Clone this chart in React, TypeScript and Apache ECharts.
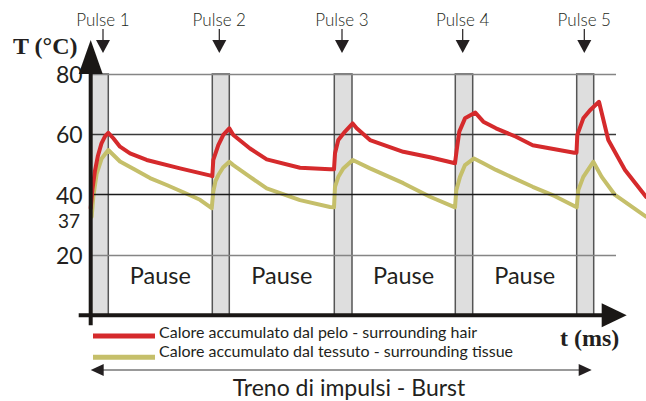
import React, { useEffect, useRef } from "react";
import * as echarts from "echarts";

// ---- data ----
const pulseLabels = ["Pulse 1", "Pulse 2", "Pulse 3", "Pulse 4", "Pulse 5"];
const pulseStart = [0, 12.16, 24.36, 36.46, 48.6];
const pulseEnd = [1.76, 13.86, 26.13, 38.2, 50.3];
const pulseMark = [1.23, 12.86, 25.13, 37.2, 49.36];
const pauseLabel = "Pause";
const pauseLevel = 13.4;
const yTicks = [20, 40, 60, 80];
const gridEnd = 52.53;
const xMax = 55.53;

const hairName = "Calore accumulato dal pelo - surrounding hair";
const tissueName = "Calore accumulato dal tessuto - surrounding tissue";

const timeHair = [0, 0.18, 0.43, 0.73, 1.08, 1.43, 1.76, 2.26, 2.93, 3.93, 5.6, 8.93, 12.0, 12.16, 12.26, 12.76, 13.26, 13.86, 14.26, 15.93, 17.6, 20.93, 23.93, 24.33, 24.43, 24.76, 25.43, 26.2, 26.6, 27.93, 31.26, 33.93, 36.43, 36.6, 36.86, 37.43, 38.46, 39.26, 40.53, 42.53, 44.2, 48.36, 48.58, 48.66, 49.26, 49.93, 50.83, 51.76, 53.43, 55.53];
const tempHair = [35.5, 42, 48, 53, 57, 59.3, 60.5, 58.7, 55.9, 53.7, 51.5, 48.7, 46.3, 46.1, 51.5, 56.4, 59.8, 62, 59.8, 55.3, 51.7, 48.9, 48.4, 48.4, 53.7, 58.1, 60.9, 63.6, 62, 58.1, 54.2, 52.4, 50.4, 54.8, 60.9, 65.3, 67.2, 64.2, 62, 59.2, 56.4, 53.9, 53.9, 59.8, 65.3, 68, 70.8, 58.1, 48.2, 39.3];

const timeTissue = [0.1, 0.26, 0.6, 1.1, 1.76, 2.93, 4.26, 5.93, 7.6, 9.26, 10.93, 12.1, 12.26, 12.48, 12.76, 13.23, 13.86, 14.26, 15.93, 17.6, 20.93, 23.93, 24.33, 24.43, 24.76, 25.26, 26.2, 27.93, 31.26, 33.93, 36.43, 36.56, 36.93, 37.43, 38.33, 39.26, 40.53, 44.2, 46.43, 48.6, 48.76, 49.26, 50.26, 51.1, 52.43, 55.53];
const tempTissue = [32.7, 39.3, 47, 52, 54.8, 51, 48.6, 45.5, 43.2, 40.8, 38.3, 35.5, 41, 44.5, 46.5, 49, 50.9, 49.8, 45.9, 42.1, 38.2, 35.9, 35.8, 42.6, 45.9, 48.7, 51.5, 48.7, 43.8, 39.3, 35.8, 41.5, 45.9, 49.8, 52, 50.4, 48.2, 42.6, 39.5, 35.8, 41.5, 45.9, 50.9, 45.9, 39.9, 32.7];

const RED = "#d52a2c";
const YEL = "#c5bf6a";
const INK = "#231f20";
const SANS = "Lato";
const SERIF = "Liberation Serif";
const gridColors: Record<number, string> = { 20: "#858585", 40: "#1a1a1a", 60: "#3a3a3a", 80: "#858585" };

export default function App() {
  const ref = useRef<HTMLDivElement>(null);
  useEffect(() => {
    if (!ref.current) return;
    const chart = echarts.init(ref.current, undefined, { renderer: "svg" });
    const option: any = {
      animation: false,
      grid: { left: 90.7, right: 0, top: 74, height: 241.3, containLabel: false },
      xAxis: {
        type: "value", min: 0, max: xMax,
        axisLine: { show: false }, axisTick: { show: false }, axisLabel: { show: false }, splitLine: { show: false },
      },
      yAxis: {
        type: "value", min: 0, max: 80, interval: 20,
        axisLine: { show: false }, axisTick: { show: false }, splitLine: { show: false },
        axisLabel: {
          formatter: (v: number) => (v === 0 ? "" : String(v)),
          fontFamily: SANS, fontWeight: 400, fontSize: 23, color: INK, margin: 8,
        },
      },
      series: [
        {
          name: "bands", type: "line", data: [], z: 1, silent: true,
          markArea: {
            silent: true,
            itemStyle: { color: "#dedede", borderColor: "#555", borderWidth: 1.5 },
            data: pulseStart.map((s, i) => [{ coord: [s, 0] }, { coord: [pulseEnd[i], 80] }]),
          },
        },
        {
          name: "grid", type: "line", data: [], z: 2, silent: true,
          markLine: {
            silent: true, symbol: ["none", "none"], label: { show: false },
            data: yTicks.map((v) => [
              { coord: [0, v], lineStyle: { color: gridColors[v], width: 1.3, type: "solid" } },
              { coord: [gridEnd, v] },
            ]),
          },
        },
        {
          name: tissueName, type: "line", z: 4, showSymbol: false, symbol: "none",
          lineStyle: { color: YEL, width: 4, join: "round", cap: "round" },
          data: timeTissue.map((t, i) => [t, tempTissue[i]]),
        },
        {
          name: hairName, type: "line", z: 5, showSymbol: false, symbol: "none",
          lineStyle: { color: RED, width: 4, join: "round", cap: "round" },
          data: timeHair.map((t, i) => [t, tempHair[i]]),
        },
      ],
    };
    chart.setOption(option);

    const px = (x: number, y: number) => chart.convertToPixel({ gridIndex: 0 }, [x, y]) as number[];
    const [ox, oy] = px(0, 0);
    const topY = px(0, 80)[1];
    const light = (size: number) => `300 ${size}px "${SANS}"`;
    const reg = (size: number) => `${size}px "${SANS}"`;
    const g: any[] = [];
    // y axis
    g.push({ type: "line", shape: { x1: ox, y1: oy + 10, x2: ox, y2: topY }, style: { stroke: "#1a1715", lineWidth: 4 }, z: 10 });
    g.push({ type: "polygon", shape: { points: [[ox, topY - 34], [ox - 12, topY], [ox + 12, topY]] }, style: { fill: "#1a1715" }, z: 10 });
    // x axis
    g.push({ type: "line", shape: { x1: ox - 12, y1: oy, x2: ox + 512, y2: oy }, style: { stroke: "#1a1715", lineWidth: 4 }, z: 10 });
    g.push({ type: "polygon", shape: { points: [[ox + 536, oy], [ox + 511, oy - 12], [ox + 511, oy + 12]] }, style: { fill: "#1a1715" }, z: 10 });
    // axis titles
    g.push({ type: "text", x: 13, y: 46, style: { text: "T (°C)", font: `bold 24px "${SERIF}"`, fill: INK, verticalAlign: "middle" }, z: 10 });
    g.push({ type: "text", x: 560, y: 338, style: { text: "t (ms)", font: `bold 24px "${SERIF}"`, fill: INK, verticalAlign: "middle" }, z: 10 });
    // special 37 label
    g.push({ type: "text", x: 80, y: 220, style: { text: "37", font: reg(19), fill: INK, align: "right", verticalAlign: "middle" }, z: 10 });
    // pulses
    pulseMark.forEach((m, i) => {
      const x = px(m, 80)[0];
      g.push({ type: "line", shape: { x1: x, y1: 29, x2: x, y2: 41 }, style: { stroke: INK, lineWidth: 1.2 }, z: 10 });
      g.push({ type: "polygon", shape: { points: [[x - 7, 40], [x + 7, 40], [x, 53]] }, style: { fill: INK }, z: 10 });
      g.push({ type: "text", x, y: 19, style: { text: pulseLabels[i], font: light(17), fill: INK, align: "center", verticalAlign: "middle" }, z: 10 });
    });
    // pauses
    for (let i = 0; i < pulseStart.length - 1; i++) {
      const [x, y] = px((pulseEnd[i] + pulseStart[i + 1]) / 2, pauseLevel);
      g.push({ type: "text", x, y, style: { text: pauseLabel, font: reg(23.5), fill: INK, align: "center", verticalAlign: "middle" }, z: 10 });
    }
    // legend
    g.push({ type: "rect", shape: { x: 93, y: 333.5, width: 62, height: 5 }, style: { fill: RED }, z: 10 });
    g.push({ type: "rect", shape: { x: 93, y: 354.8, width: 62, height: 5 }, style: { fill: YEL }, z: 10 });
    g.push({ type: "text", x: 159, y: 331.5, style: { text: hairName, font: reg(16), fill: INK, verticalAlign: "middle" }, z: 10 });
    g.push({ type: "text", x: 159, y: 350.5, style: { text: tissueName, font: reg(16), fill: INK, verticalAlign: "middle" }, z: 10 });
    // burst arrow
    const by = 370;
    g.push({ type: "line", shape: { x1: ox + 12, y1: by, x2: ox + 489, y2: by }, style: { stroke: "#777", lineWidth: 1.5 }, z: 10 });
    g.push({ type: "polygon", shape: { points: [[ox, by], [ox + 13, by - 6], [ox + 13, by + 6]] }, style: { fill: INK }, z: 10 });
    g.push({ type: "polygon", shape: { points: [[ox + 501, by], [ox + 488, by - 6], [ox + 488, by + 6]] }, style: { fill: INK }, z: 10 });
    g.push({ type: "text", x: 349, y: 387, style: { text: "Treno di impulsi - Burst", font: reg(23), fill: INK, align: "center", verticalAlign: "middle" }, z: 10 });

    chart.setOption({ graphic: g });
    return () => chart.dispose();
  }, []);
  return <div ref={ref} style={{ position: "fixed", left: 0, top: 0, width: 646, height: 401, background: "#fff" }} />;
}
